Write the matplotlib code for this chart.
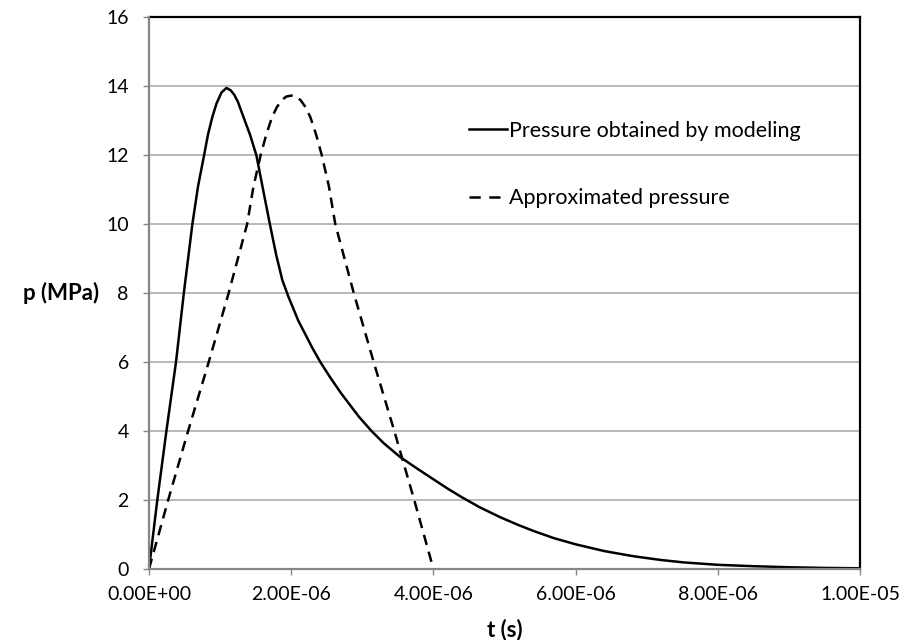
#!/usr/bin/env python3

import matplotlib
matplotlib.use('Agg')
import matplotlib.pyplot as plt
from matplotlib.lines import Line2D
import numpy as np

plt.rcParams['font.family'] = ['Lato', 'DejaVu Sans']
plt.rc('font', size=14)
plt.rc('xtick', labelsize=14)
plt.rc('ytick', labelsize=14)
plt.rc('legend', fontsize=15.5)

# pressure obtained by modeling (t in microseconds, p in MPa)
t_model = [0.0, 0.117, 0.245, 0.38, 0.49, 0.61, 0.69, 0.775, 0.83, 0.89, 0.95,
           1.02, 1.09, 1.15, 1.2, 1.25, 1.33, 1.42, 1.51, 1.6, 1.70, 1.79,
           1.875, 1.96, 2.1, 2.2, 2.3, 2.41, 2.55, 2.7, 2.81, 2.95, 3.13, 3.3,
           3.53, 3.75, 4.0, 4.2, 4.4, 4.65, 4.94, 5.2, 5.41, 5.7, 6.01, 6.4,
           6.81, 7.2, 7.52, 8.0, 8.5, 9.0, 9.5, 10.0]
p_model = [0.0, 2.0, 4.0, 6.0, 8.0, 10.0, 11.1, 12.0, 12.6, 13.1, 13.5,
           13.82, 13.95, 13.88, 13.75, 13.55, 13.1, 12.6, 12.0, 11.05, 10.0, 9.1,
           8.38, 7.9, 7.2, 6.8, 6.4, 6.0, 5.55, 5.1, 4.8, 4.42, 4.0, 3.65,
           3.25, 2.94, 2.6, 2.33, 2.08, 1.79, 1.5, 1.27, 1.1, 0.89, 0.71, 0.52,
           0.37, 0.26, 0.19, 0.12, 0.08, 0.05, 0.03, 0.02]

# approximated pressure
t_approx = [0.0, 0.27, 0.55, 0.84, 1.12, 1.38, 1.47, 1.57, 1.65, 1.73, 1.80,
            1.87, 1.93, 2.0, 2.07, 2.13, 2.20, 2.27, 2.35, 2.43, 2.53, 2.62,
            2.88, 3.16, 3.45, 3.73, 4.0]
p_approx = [0.0, 2.0, 4.0, 6.0, 8.0, 10.0, 11.1, 12.0, 12.6, 13.1, 13.4,
            13.6, 13.7, 13.73, 13.7, 13.6, 13.4, 13.1, 12.6, 12.0, 11.1, 10.0,
            8.0, 6.0, 4.0, 2.0, 0.0]

labels = ['Pressure obtained by modeling', 'Approximated pressure']

x_ticks = [0, 2e-6, 4e-6, 6e-6, 8e-6, 1e-5]
x_ticklabels = ['0.00E+00', '2.00E-06', '4.00E-06', '6.00E-06', '8.00E-06', '1.00E-05']
y_ticks = [0, 2, 4, 6, 8, 10, 12, 14, 16]

fig = plt.figure(figsize=(9.14, 6.4), dpi=100)
ax = fig.add_axes([0.163, 0.111, 0.778, 0.862])

ax.plot(np.array(t_model) * 1e-6, p_model, color='black', lw=1.8, zorder=3)
ax.plot(np.array(t_approx) * 1e-6, p_approx, color='black', lw=1.8,
        dashes=(4.2, 2.8), zorder=3)

ax.set_xlim(0, 1e-5)
ax.set_ylim(0, 16)
ax.set_xticks(x_ticks)
ax.set_xticklabels(x_ticklabels)
ax.set_yticks(y_ticks)

ax.grid(axis='y', color='#a6a6a6', lw=1.1)
ax.set_axisbelow(True)

for s in ['top', 'right']:
    ax.spines[s].set_color('black')
    ax.spines[s].set_linewidth(1.6)
for s in ['left', 'bottom']:
    ax.spines[s].set_color('#868686')
    ax.spines[s].set_linewidth(1.6)
    ax.spines[s].set_zorder(4)

ax.tick_params(axis='x', direction='out', length=4.5, width=1, color='#868686', pad=8)
ax.tick_params(axis='y', direction='out', length=4.5, width=1, color='#868686', pad=10)

ax.set_xlabel('t (s)', fontweight='bold', fontsize=16)
ax.xaxis.set_label_coords(0.5, -0.11)
ax.xaxis.label.set_va('center')
ax.set_ylabel('p (MPa)', fontweight='bold', fontsize=16, rotation=0,
              ha='center', va='center')
ax.yaxis.set_label_coords(-0.124, 0.5)

# legend proxies so the dashed sample shows two whole dashes
handles = [Line2D([], [], color='black', lw=1.8),
           Line2D([], [], color='black', lw=1.8, dashes=(4.5, 3.4))]
ax.legend(handles, labels, loc='center left', bbox_to_anchor=(0.45, 0.733),
          frameon=False, borderpad=0, borderaxespad=0, handlelength=1.75,
          handletextpad=0.1, labelspacing=2.2)

plt.savefig('out.png', dpi=100)
